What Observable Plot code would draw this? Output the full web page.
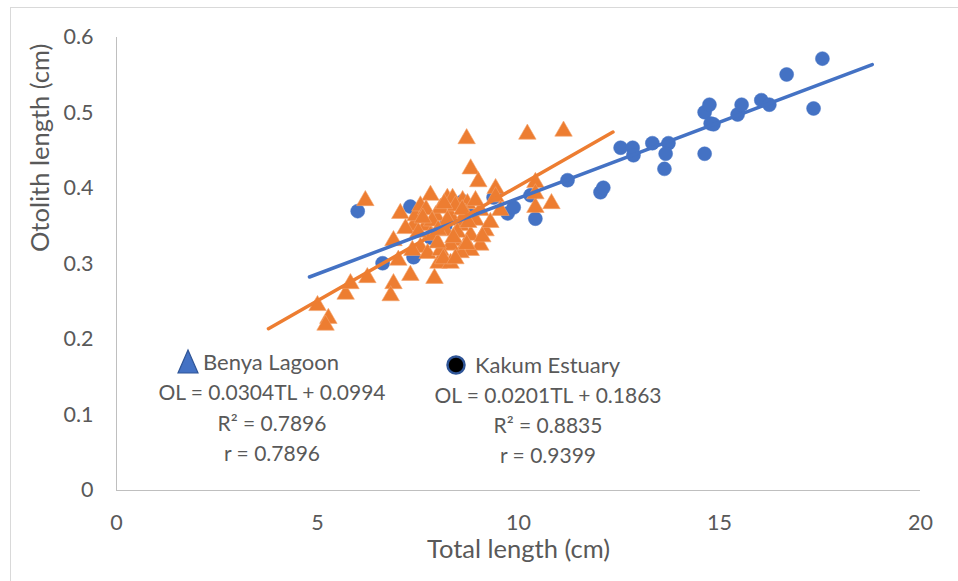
<!DOCTYPE html>
<html>
<head>
<meta charset="utf-8">
<script src="https://cdn.jsdelivr.net/npm/d3@7"></script>
<script src="https://cdn.jsdelivr.net/npm/@observablehq/plot@0.6"></script>
<style>
  html, body { margin: 0; padding: 0; background: #fff; overflow: hidden; }
  #wrap { position: relative; width: 958px; height: 581px; font-family: Lato, "Open Sans", sans-serif; color: #595959; }
  #border { position: absolute; left: 10px; top: 7px; width: 2000px; height: 2000px; border-left: 1px solid #d9d9d9; border-top: 1px solid #d9d9d9; }
  .ann { position: absolute; white-space: nowrap; transform: translate(-50%, -50%); font-size: 21px; line-height: 1; }
  .hdr { position: absolute; white-space: nowrap; transform: translate(0, -50%); font-size: 22px; line-height: 1; }
  svg.sym { position: absolute; overflow: visible; }
</style>
</head>
<body>
<div id="wrap">
  <div id="border"></div>
  <div id="chart"></div>
</div>
<script>
// Benya Lagoon (orange triangles): total length (cm), otolith length (cm)
const benyaTL = [5.00,5.27,5.20,5.70,5.82,6.24,6.89,6.82,7.31,7.01,6.89,7.91,8.01,8.31,6.19,7.81,8.23,8.36,8.61,8.73,7.39,7.56,7.74,8.71,10.22,11.12,8.81,9.00,10.42,10.82,10.42,10.42,9.43,
  7.06,7.19,7.44,7.56,7.69,7.81,7.94,8.06,8.18,8.31,8.43,8.56,8.68,8.81,8.93,9.05,9.18,9.30,9.05,8.81,8.56,8.31,8.06,8.43,8.93,9.43,9.55,7.36,7.51,7.99,8.23,8.48,8.71,9.10,8.13,8.43,
  7.70,7.85,8.00,8.15,8.60,8.75,7.62,8.38];
const benyaOL = [0.245,0.228,0.219,0.260,0.274,0.282,0.274,0.258,0.285,0.305,0.331,0.281,0.301,0.301,0.384,0.391,0.387,0.387,0.384,0.380,0.351,0.322,0.314,0.466,0.472,0.476,0.426,0.409,0.408,0.380,0.375,0.393,0.400,
  0.367,0.347,0.364,0.377,0.351,0.338,0.364,0.374,0.344,0.364,0.331,0.351,0.367,0.338,0.358,0.371,0.344,0.355,0.325,0.318,0.315,0.325,0.318,0.377,0.384,0.389,0.371,0.318,0.342,0.328,0.358,0.342,0.326,0.336,0.307,0.307,
  0.372,0.357,0.345,0.380,0.372,0.355,0.361,0.335];

// Kakum Estuary (blue circles)
const kakumTL = [6.00,7.31,6.62,7.39,8.61,9.38,9.43,9.73,9.88,10.42,10.30,11.22,12.04,12.11,12.54,12.84,12.86,13.33,13.73,13.66,13.63,14.63,14.63,14.75,14.78,14.85,15.45,15.55,16.04,16.24,16.67,17.34,17.56,7.81,8.18,8.81];
const kakumOL = [0.370,0.376,0.301,0.309,0.383,0.388,0.393,0.367,0.375,0.360,0.391,0.411,0.395,0.401,0.454,0.454,0.444,0.460,0.460,0.446,0.426,0.446,0.501,0.511,0.486,0.485,0.498,0.511,0.517,0.511,0.551,0.506,0.572,0.335,0.351,0.364];

// Trendlines: OL = slope*TL + intercept, drawn over the given TL range
const seriesNames = ["Benya Lagoon", "Kakum Estuary"];
const slopes = [0.0304, 0.0201];
const intercepts = [0.0994, 0.1863];
const lineStart = [3.78, 4.8];
const lineEnd = [12.35, 18.8];
const r2Values = ["0.7896", "0.8835"];
const rValues = ["0.7896", "0.9399"];

const xTicks = [0, 5, 10, 15, 20];
const yTicks = [0, 0.1, 0.2, 0.3, 0.4, 0.5, 0.6];

const ORANGE = "#ED7D31", BLUE = "#4472C4", GREY = "#595959";

const benya = benyaTL.map((x, i) => ({x, y: benyaOL[i]}));
const kakum = kakumTL.map((x, i) => ({x, y: kakumOL[i]}));
const trend = k => [lineStart[k], lineEnd[k]].map(x => ({x, y: slopes[k] * x + intercepts[k]}));

const chart = Plot.plot({
  width: 958, height: 581,
  marginLeft: 116, marginRight: 38, marginTop: 37, marginBottom: 91,
  style: {fontFamily: "Lato, 'Open Sans', sans-serif", color: GREY, background: "transparent", overflow: "visible"},
  x: {domain: [0, 20], ticks: xTicks, tickSize: 0, tickPadding: 24, label: null, tickFormat: d => String(d)},
  y: {domain: [0, 0.6], ticks: yTicks, tickSize: 0, tickPadding: 23, label: null, tickFormat: d => String(d)},
  marks: [
    Plot.ruleX([0], {y1: 0, y2: 0.6, stroke: "#bfbfbf", strokeWidth: 1}),
    Plot.ruleY([0], {x1: 0, x2: 20, stroke: "#bfbfbf", strokeWidth: 1}),
    Plot.dot(kakum, {x: "x", y: "y", r: 7, fill: BLUE, stroke: BLUE, strokeWidth: 0.5}),
    Plot.dot(benya, {x: "x", y: "y", r: 6.5, symbol: "triangle", fill: ORANGE, stroke: "#f4a36c", strokeWidth: 0.6}),
    Plot.line(trend(1), {x: "x", y: "y", stroke: BLUE, strokeWidth: 3.5}),
    Plot.line(trend(0), {x: "x", y: "y", stroke: ORANGE, strokeWidth: 3.5}),
    Plot.text(["Otolith length (cm)"], {text: d => d, frameAnchor: "left", dx: -76, dy: -12, rotate: -90, fontSize: 25.5, fill: GREY}),
    Plot.text(["Total length (cm)"], {text: d => d, frameAnchor: "bottom", dy: 67, fontSize: 25.5, fill: GREY})
  ]
});
chart.querySelectorAll("g[aria-label$='axis'] text, g[aria-label$='tick label'] text").forEach(t => {
  t.style.fontSize = "21.5px"; t.setAttribute("fill", GREY);
});
document.getElementById("chart").append(chart);

// Annotation blocks
const wrap = document.getElementById("wrap");
function add(cls, txt, left, top) {
  const d = document.createElement("div");
  d.className = cls; d.textContent = txt;
  d.style.left = left + "px"; d.style.top = top + "px";
  wrap.append(d);
}
const fmt = k => `OL = ${slopes[k]}TL + ${intercepts[k]}`;
// Benya Lagoon block
add("hdr", seriesNames[0], 203, 362);
add("ann", fmt(0), 272, 391);
add("ann", "R\u00B2 = " + r2Values[0], 272, 422);
add("ann", "r = " + rValues[0], 272, 452);
// Kakum Estuary block
add("hdr", seriesNames[1], 475, 365);
add("ann", fmt(1), 548, 394);
add("ann", "R\u00B2 = " + r2Values[1], 548, 424);
add("ann", "r = " + rValues[1], 548, 454);

// legend symbols
const ns = "http://www.w3.org/2000/svg";
function sym(left, top, w, h, inner) {
  const s = document.createElementNS(ns, "svg");
  s.setAttribute("class", "sym"); s.setAttribute("width", w); s.setAttribute("height", h);
  s.style.left = left + "px"; s.style.top = top + "px";
  s.innerHTML = inner; wrap.append(s);
}
sym(177, 349, 22, 25, `<polygon points="11,1 21,24 1,24" fill="${BLUE}" stroke="#2F5597" stroke-width="1.2"/>`);
sym(446, 355, 20, 20, `<circle cx="10" cy="10" r="8.5" fill="#000" stroke="#2F5597" stroke-width="2.5"/>`);
</script>
</body>
</html>
